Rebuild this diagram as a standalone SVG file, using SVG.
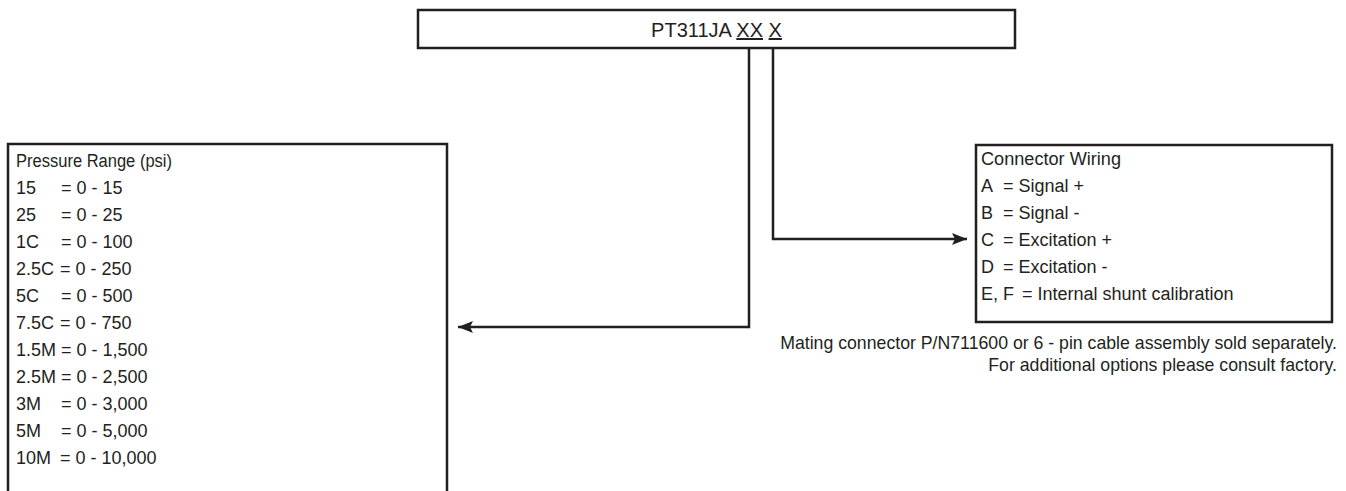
<svg xmlns="http://www.w3.org/2000/svg" width="1346" height="491" viewBox="0 0 1346 491">
<style>
  .box { fill: #ffffff; stroke: #231f20; stroke-width: 2.5; }
  .t { font-family: "Liberation Sans", Arial, sans-serif; font-size: 18px; fill: #231f20; }
  .note { font-family: "Liberation Sans", Arial, sans-serif; font-size: 17.7px; fill: #231f20; text-anchor: end; }
  .u { text-decoration: underline; }
  .conn { fill: none; stroke: #231f20; stroke-width: 2.5; }
</style>
<defs>
  <marker id="arrow" markerWidth="16" markerHeight="12" refX="15" refY="6" orient="auto" markerUnits="userSpaceOnUse">
    <path d="M0,0 L15,6 L0,12 L3,6 Z" fill="#231f20"/>
  </marker>
</defs>
<rect width="1346" height="491" fill="#ffffff"/>

<g id="model-code">
  <rect class="box" x="418" y="10" width="597" height="38"/>
  <text class="t" x="716.5" y="37" text-anchor="middle" style="font-size:20px">PT311JA <tspan class="u">XX</tspan> <tspan class="u">X</tspan></text>
</g>

<g id="pressure-range">
  <rect class="box" x="8" y="144" width="439" height="360"/>
  <text class="t" x="16" y="167" textLength="156" lengthAdjust="spacingAndGlyphs">Pressure Range (psi)</text>
  <text class="t" y="194"><tspan x="16">15</tspan><tspan x="61">= 0 - 15</tspan></text>
  <text class="t" y="221"><tspan x="16">25</tspan><tspan x="61">= 0 - 25</tspan></text>
  <text class="t" y="248"><tspan x="16">1C</tspan><tspan x="61">= 0 - 100</tspan></text>
  <text class="t" y="275"><tspan x="16">2.5C</tspan><tspan x="60">= 0 - 250</tspan></text>
  <text class="t" y="302"><tspan x="16">5C</tspan><tspan x="61">= 0 - 500</tspan></text>
  <text class="t" y="329"><tspan x="16">7.5C</tspan><tspan x="60">= 0 - 750</tspan></text>
  <text class="t" y="356"><tspan x="16">1.5M</tspan><tspan x="61">= 0 - 1,500</tspan></text>
  <text class="t" y="383"><tspan x="16">2.5M</tspan><tspan x="61">= 0 - 2,500</tspan></text>
  <text class="t" y="410"><tspan x="16">3M</tspan><tspan x="61">= 0 - 3,000</tspan></text>
  <text class="t" y="437"><tspan x="16">5M</tspan><tspan x="61">= 0 - 5,000</tspan></text>
  <text class="t" y="464"><tspan x="16">10M</tspan><tspan x="60">= 0 - 10,000</tspan></text>
</g>

<g id="connector-wiring">
  <rect class="box" x="976" y="145" width="356" height="177"/>
  <text class="t" x="981" y="165" textLength="140" lengthAdjust="spacingAndGlyphs">Connector Wiring</text>
  <text class="t" y="192"><tspan x="981">A</tspan><tspan x="1003">= Signal +</tspan></text>
  <text class="t" y="219"><tspan x="981">B</tspan><tspan x="1003">= Signal -</tspan></text>
  <text class="t" y="246"><tspan x="981">C</tspan><tspan x="1003">= Excitation +</tspan></text>
  <text class="t" y="273"><tspan x="981">D</tspan><tspan x="1003">= Excitation -</tspan></text>
  <text class="t" y="300"><tspan x="981">E, F</tspan><tspan x="1022">= Internal shunt calibration</tspan></text>
</g>

<g id="footnote">
  <text class="note" x="1337" y="349">Mating connector P/N711600 or 6 - pin cable assembly sold separately.</text>
  <text class="note" x="1337" y="371">For additional options please consult factory.</text>
</g>

<g id="connectors">
  <path class="conn" d="M749,48 V327 H458" marker-end="url(#arrow)"/>
  <path class="conn" d="M773,48 V239 H967" marker-end="url(#arrow)"/>
</g>
</svg>
